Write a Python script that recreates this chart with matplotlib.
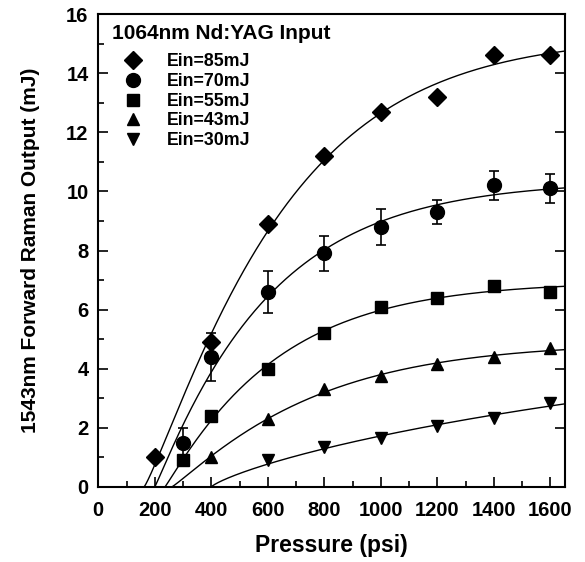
import numpy as np
import matplotlib.pyplot as plt
from matplotlib.ticker import MultipleLocator

plt.rcParams['font.family'] = ['Liberation Sans', 'DejaVu Sans']
plt.rcParams['font.weight'] = 'bold'

# measured points (psi, mJ)
p85 = [200, 400, 600, 800, 1000, 1200, 1400, 1600]
e85 = [1.0, 4.9, 8.9, 11.2, 12.7, 13.2, 14.6, 14.6]

p70 = [300, 400, 600, 800, 1000, 1200, 1400, 1600]
e70 = [1.5, 4.4, 6.6, 7.9, 8.8, 9.3, 10.2, 10.1]
err70 = [0.5, 0.8, 0.7, 0.6, 0.6, 0.4, 0.5, 0.5]

p55 = [300, 400, 600, 800, 1000, 1200, 1400, 1600]
e55 = [0.9, 2.4, 4.0, 5.2, 6.1, 6.4, 6.8, 6.6]

p43 = [400, 600, 800, 1000, 1200, 1400, 1600]
e43 = [1.0, 2.3, 3.3, 3.75, 4.15, 4.4, 4.7]

p30 = [600, 800, 1000, 1200, 1400, 1600]
e30 = [0.9, 1.35, 1.65, 2.05, 2.35, 2.85]

# threshold pressure where each fit curve leaves zero (psi)
thresholds = [162, 200, 236, 260, 400]

series = [
    (p85, e85, 'D', 9.5, 'Ein=85mJ'),
    (p70, e70, 'o', 10, 'Ein=70mJ'),
    (p55, e55, 's', 8, 'Ein=55mJ'),
    (p43, e43, '^', 9, 'Ein=43mJ'),
    (p30, e30, 'v', 9, 'Ein=30mJ'),
]


def sat(x, x0, b, p):
    return 1 - np.exp(-(np.clip(x - x0, 0, None) / b) ** p)


def sat_fit(px, ey, x0):
    # least squares y = A*(1-exp(-((x-x0)/b)^p)), A solved linearly
    px = np.asarray(px, float)
    ey = np.asarray(ey, float)
    best = None
    for p in np.arange(0.8, 3.01, 0.05):
        for b in np.arange(100, 4000, 10):
            f = sat(px, x0, b, p)
            A = (f @ ey) / (f @ f)
            sse = np.sum((A * f - ey) ** 2)
            if best is None or sse < best[0]:
                best = (sse, A, b, p)
    return best[1:]


fig = plt.figure(figsize=(5.85, 5.62), dpi=100)
ax = fig.add_axes([0.168, 0.1335, 0.797, 0.8415])

xs = np.linspace(0, 1650, 600)
handles = []
for (px, ey, mk, ms, lab), x0 in zip(series, thresholds):
    A, b, p = sat_fit(px, ey, x0)
    ax.plot(xs, A * sat(xs, x0, b, p), color='black', lw=1.0)
    h, = ax.plot(px, ey, ls='none', marker=mk, ms=ms, color='black', label=lab)
    handles.append(h)

ax.errorbar(p70, e70, yerr=err70, fmt='none', ecolor='black', elinewidth=1.2,
            capsize=3.5, capthick=1.2)

ax.set_xlim(0, 1650)
ax.set_ylim(0, 16)
ax.xaxis.set_major_locator(MultipleLocator(200))
ax.xaxis.set_minor_locator(MultipleLocator(100))
ax.yaxis.set_major_locator(MultipleLocator(2))
ax.yaxis.set_minor_locator(MultipleLocator(1))
ax.tick_params(which='both', direction='in', top=False, right=True, labelsize=14.5, width=1.2)
ax.tick_params(which='major', length=7)
ax.tick_params(which='minor', length=4, right=False)
ax.tick_params(axis='x', pad=10)
ax.tick_params(axis='y', pad=7)
for s in ax.spines.values():
    s.set_linewidth(1.5)

ax.set_xlabel('Pressure (psi)', fontsize=16.5, fontweight='bold', labelpad=10)
ax.set_ylabel('1543nm Forward Raman Output (mJ)', fontsize=15, fontweight='bold', labelpad=19)

ax.text(0.03, 0.978, '1064nm Nd:YAG Input', transform=ax.transAxes, fontsize=15,
        fontweight='bold', va='top', ha='left')
ax.legend(handles=handles, loc='upper left', bbox_to_anchor=(0.028, 0.943), frameon=False,
          handlelength=1.0, handletextpad=1.4, labelspacing=0.15,
          borderpad=0.2, prop={'weight': 'bold', 'size': 12.8})

fig.savefig('out.png', dpi=100)
